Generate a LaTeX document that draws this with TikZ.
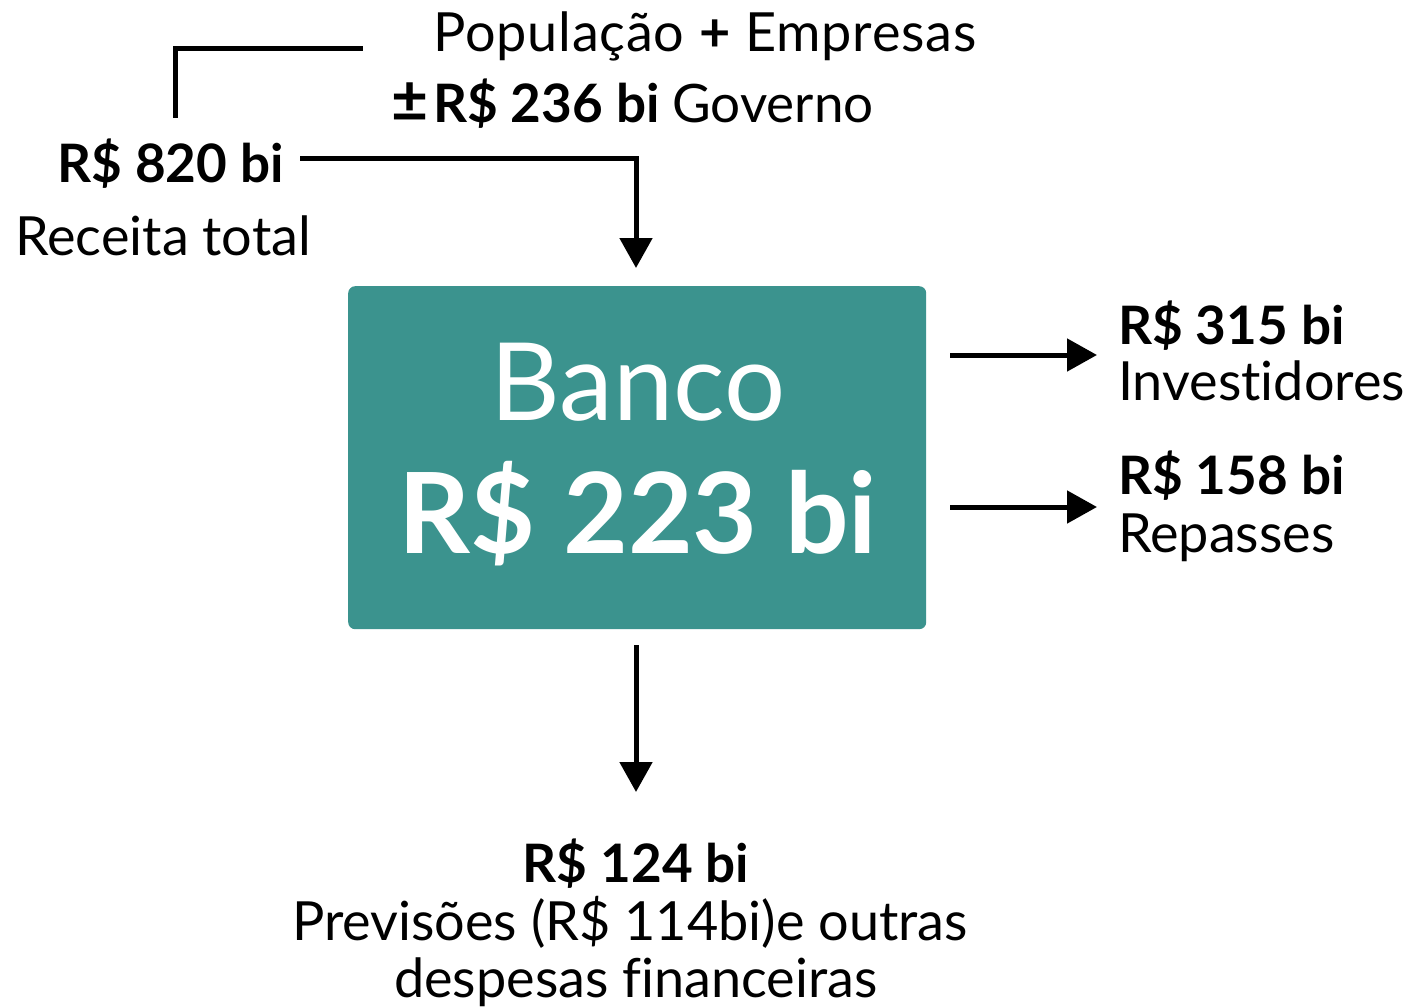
\documentclass[tikz,border=0pt]{standalone}
\usepackage{fontspec}
\setmainfont{Lato}[Ligatures={NoCommon}]
\usetikzlibrary{arrows.meta}
\definecolor{teal1}{HTML}{3B938E}
\begin{document}
\begin{tikzpicture}[x=1pt,y=-1pt,
  lbl/.style={inner sep=0pt,font=\fontsize{54}{60}\selectfont},
  blbl/.style={inner sep=0pt,font=\fontsize{53}{60}\selectfont\bfseries},
  conn/.style={line width=5pt},
  arr/.style={line width=5pt,-{Triangle[width=32pt,length=30pt]}}]
\useasboundingbox (0,0) rectangle (1420,1006);
% box
\node[fill=teal1,rounded corners=7pt,minimum width=578pt,minimum height=343pt,inner sep=0pt,anchor=north west] (bank) at (348,286) {};
\node[inner sep=0pt,anchor=base,text=white,font=\fontsize{108}{110}\selectfont] (bname) at (638,420) {Banco};
\node[inner sep=0pt,anchor=base,text=white,font=\fontsize{112}{114}\selectfont\bfseries] (bval) at (638,553) {R\$ 223 bi};
% top texts
\node[lbl,anchor=base west] (pop) at (433,52) {\addfontfeatures{LetterSpace=1.5}População {\bfseries +} Empresas};
\node[inner sep=0pt,anchor=base west,font=\fontsize{64}{60}\selectfont\bfseries] (pm) at (391,122) {±};
\node[blbl,anchor=base west] (gov) at (433,122) {R\$ 236 bi \mdseries Governo};
\coordinate (brA) at (175,118);
\coordinate (brB) at (363,49);
\draw[conn] (brA) |- (brB);
% receita
\node[blbl,anchor=base east] (rec) at (284,182) {R\$ 820 bi};
\node[lbl,anchor=base west] (rect) at (15,255) {Receita total};
\coordinate (recS) at (300,158);
\coordinate (recT) at (636,268);
\draw[arr] (recS) -| (recT);
% right
\coordinate (r1s) at (950,355);
\coordinate (r1e) at (1097,355);
\coordinate (r2s) at (950,507);
\coordinate (r2e) at (1097,507);
\draw[arr] (r1s) -- (r1e);
\draw[arr] (r2s) -- (r2e);
\node[blbl,anchor=base west] (inv1) at (1118,344) {R\$ 315 bi};
\node[lbl,anchor=base west] (inv2) at (1118,400) {Investidores};
\node[blbl,anchor=base west] (rep1) at (1118,494) {R\$ 158 bi};
\node[lbl,anchor=base west] (rep2) at (1118,552) {Repasses};
% bottom
\coordinate (ds) at (636,645);
\coordinate (de) at (636,792);
\draw[arr] (ds) -- (de);
\node[blbl,anchor=base] (b1) at (636,882) {R\$ 124 bi};
\node[lbl,anchor=base] (b2) at (630,940) {Previsões (R\$ 114bi)e outras};
\node[lbl,anchor=base] (b3) at (636,997) {despesas financeiras};
\end{tikzpicture}
\end{document}
